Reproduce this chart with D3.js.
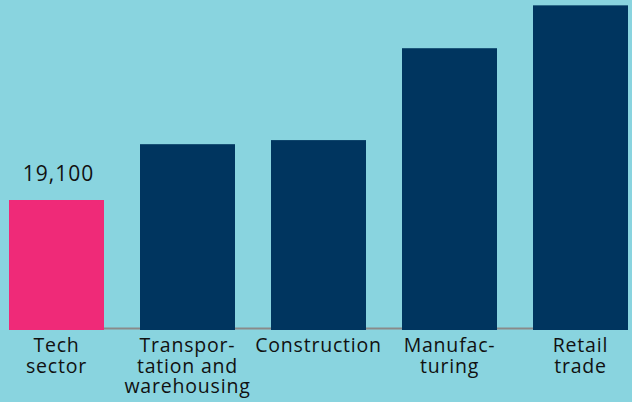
<!DOCTYPE html>
<html>
<head>
<meta charset="utf-8">
<script src="https://cdn.jsdelivr.net/npm/d3@7"></script>
<style>
  body { margin: 0; background: #89d4df; }
  svg { display: block; }
</style>
</head>
<body>
<div id="chart"></div>
<script>
var categories = ['Tech sector', 'Transportation and warehousing', 'Construction', 'Manufacturing', 'Retail trade']
var labelLines = [['Tech', 'sector'], ['Transpor-', 'tation and', 'warehousing'], ['Construction'], ['Manufac-', 'turing'], ['Retail', 'trade']]
var values = [19100, 27300, 27900, 41400, 47700]
var highlight = ['Tech sector']

var width = 632, height = 402
var baseY = 330

var svg = d3.select('#chart').append('svg')
	.attr('width', width).attr('height', height)

svg.append('rect').attr('width', width).attr('height', height).attr('fill', '#89d4df')

var x = d3.scaleBand()
	.domain(categories)
	.range([-9, 646])
	.paddingInner(36 / 131)
	.paddingOuter(18 / 131)

var y = d3.scaleLinear()
	.domain([0, 19100])
	.range([baseY, 200])

// baseline
svg.append('line')
	.attr('x1', x(categories[0])).attr('x2', x(categories[4]) + x.bandwidth())
	.attr('y1', baseY - 1.5).attr('y2', baseY - 1.5)
	.attr('stroke', '#8a8a8a').attr('stroke-width', 2)

svg.selectAll('rect.bar').data(categories).enter().append('rect')
	.attr('class', 'bar')
	.attr('x', function(d) { return x(d) })
	.attr('width', x.bandwidth())
	.attr('y', function(d, i) { return y(values[i]) })
	.attr('height', function(d, i) { return baseY - y(values[i]) })
	.attr('fill', function(d) { return highlight.indexOf(d) >= 0 ? '#ef2a78' : '#00355f' })

// value label on highlighted bar
svg.selectAll('text.value').data(highlight).enter().append('text')
	.attr('class', 'value')
	.attr('x', function(d) { return x(d) + x.bandwidth() / 2 + 2 })
	.attr('y', function(d) { return y(values[categories.indexOf(d)]) - 19 })
	.attr('text-anchor', 'middle')
	.style('font-family', '"Open Sans", sans-serif')
	.style('font-size', '21px')
	.style('letter-spacing', '1px')
	.attr('fill', '#111')
	.text(function(d) { return d3.format(',')(values[categories.indexOf(d)]) })

var labels = svg.selectAll('text.cat').data(categories).enter().append('text')
	.attr('class', 'cat')
	.attr('x', function(d) { return x(d) + x.bandwidth() / 2 })
	.attr('y', 352)
	.attr('text-anchor', 'middle')
	.style('font-family', '"Open Sans", sans-serif')
	.style('font-size', '19.5px')
	.style('letter-spacing', '0.8px')
	.attr('fill', '#111')

labels.each(function(d, i) {
	var t = d3.select(this)
	labelLines[i].forEach(function(line, j) {
		t.append('tspan')
			.attr('x', x(d) + x.bandwidth() / 2)
			.attr('dy', j === 0 ? 0 : 20.5)
			.text(line)
	})
})
</script>
</body>
</html>
